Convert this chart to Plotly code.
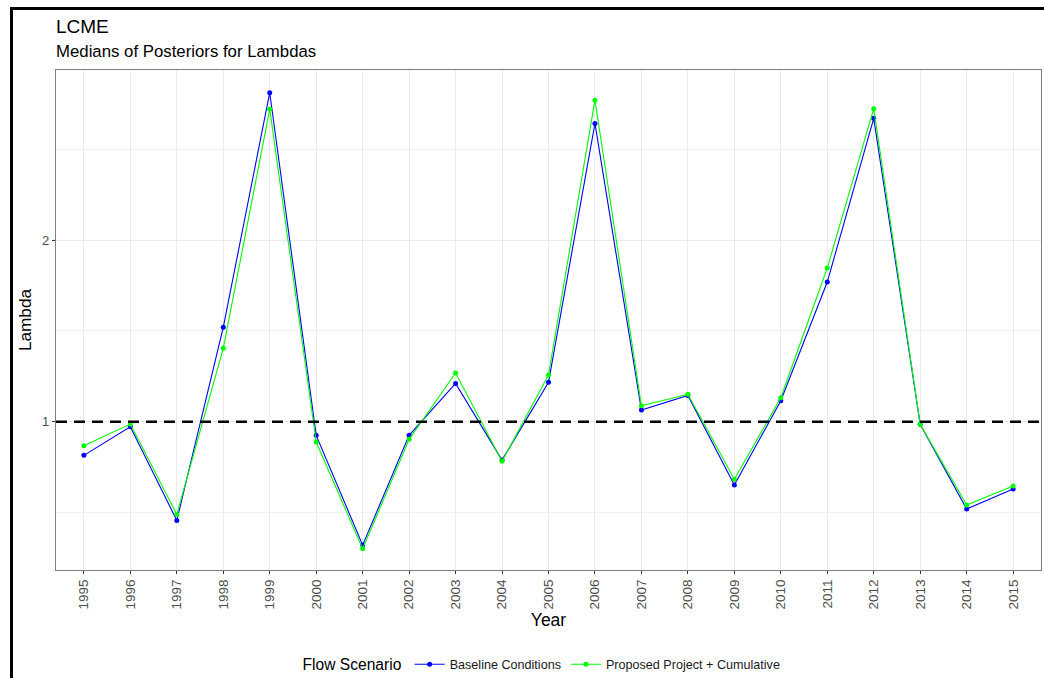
import plotly.graph_objects as go

# Posterior medians of lambda by year for each flow scenario
years = [1995, 1996, 1997, 1998, 1999, 2000, 2001, 2002, 2003, 2004, 2005,
         2006, 2007, 2008, 2009, 2010, 2011, 2012, 2013, 2014, 2015]
baseline = [0.815, 0.972, 0.457, 1.520, 2.811, 0.925, 0.321, 0.925, 1.211, 0.789, 1.217,
            2.642, 1.064, 1.145, 0.652, 1.116, 1.769, 2.670, 0.986, 0.520, 0.630]
proposed = [0.868, 0.987, 0.490, 1.404, 2.721, 0.888, 0.301, 0.903, 1.268, 0.782, 1.257,
            2.770, 1.088, 1.151, 0.683, 1.132, 1.846, 2.723, 0.986, 0.542, 0.646]
series_names = ["Baseline Conditions", "Proposed Project + Cumulative"]
series_colors = ["#0000FF", "#00FF00"]
reference_lambda = 1.0
y_ticks = [1, 2]
y_minor = [0.5, 1.5, 2.5]

W, H = 1044, 678
L, R, T, B = 56, 3, 70, 108
FONT = "Liberation Sans, Arial, sans-serif"

fig = go.Figure()
for name, vals, col in zip(series_names, [baseline, proposed], series_colors):
    fig.add_trace(go.Scatter(
        x=[str(y) for y in years], y=vals, name=name, mode="lines+markers",
        line=dict(color=col, width=1.1), marker=dict(color=col, size=5),
    ))

fig.add_hline(y=reference_lambda, line=dict(color="black", width=2.4, dash="11px,7px"))

# plot-area helpers for the page frame
pw, ph = W - L - R, H - T - B
def px_x(p):
    return (p - L) / pw
def px_y(p):
    return (H - B - p) / ph

frame = dict(type="line", xref="paper", yref="paper", line=dict(color="black", width=3), layer="above")
fig.add_shape(**frame, x0=px_x(11.5), x1=px_x(11.5), y0=px_y(8.5), y1=px_y(H + 2))
fig.add_shape(**frame, x0=px_x(10), x1=px_x(W + 2), y0=px_y(8.5), y1=px_y(8.5))

fig.add_annotation(text="LCME", xref="paper", yref="paper", x=px_x(54), y=px_y(27),
                   xanchor="left", yanchor="middle", showarrow=False,
                   font=dict(family=FONT, size=19, color="black"))
fig.add_annotation(text="Medians of Posteriors for Lambdas", xref="paper", yref="paper",
                   x=px_x(54), y=px_y(52), xanchor="left", yanchor="middle", showarrow=False,
                   font=dict(family=FONT, size=16.8, color="black"))

fig.update_layout(
    width=W, height=H, margin=dict(l=L, r=R, t=T, b=B, autoexpand=False),
    paper_bgcolor="white", plot_bgcolor="white",
    font=dict(family=FONT, color="black"),
    showlegend=True,
    legend=dict(orientation="h", x=px_x(543), xanchor="center", y=px_y(665), yanchor="middle",
                title=dict(text="Flow Scenario", font=dict(size=15.6, color="black")),
                font=dict(size=12.6, color="#1a1a1a"), itemwidth=30, tracegroupgap=0),
    xaxis=dict(type="category", range=[-0.6, len(years) - 0.4], automargin=False,
               tickangle=-90, tickfont=dict(size=13.5, color="#4D4D4D"),
               ticks="outside", ticklen=3, tickcolor="#333333",
               showgrid=True, gridcolor="#EBEBEB", gridwidth=1.1,
               showline=True, linecolor="#7F7F7F", linewidth=1.2, mirror=True,
               title=dict(text="Year", font=dict(size=17.5), standoff=2),
               zeroline=False),
    yaxis=dict(range=[0.184, 2.936], tickvals=y_ticks, ticktext=[str(v) for v in y_ticks],
               automargin=False,
               tickfont=dict(size=13, color="#4D4D4D"),
               ticks="outside", ticklen=3, tickcolor="#333333",
               showgrid=True, gridcolor="#EBEBEB", gridwidth=1.1,
               minor=dict(tickvals=y_minor, showgrid=True, gridcolor="#F2F2F2", gridwidth=0.8, ticklen=0),
               showline=True, linecolor="#7F7F7F", linewidth=1.2, mirror=True,
               title=dict(text="Lambda", font=dict(size=17.2), standoff=6),
               zeroline=False),
)

fig.write_html("out.html")
